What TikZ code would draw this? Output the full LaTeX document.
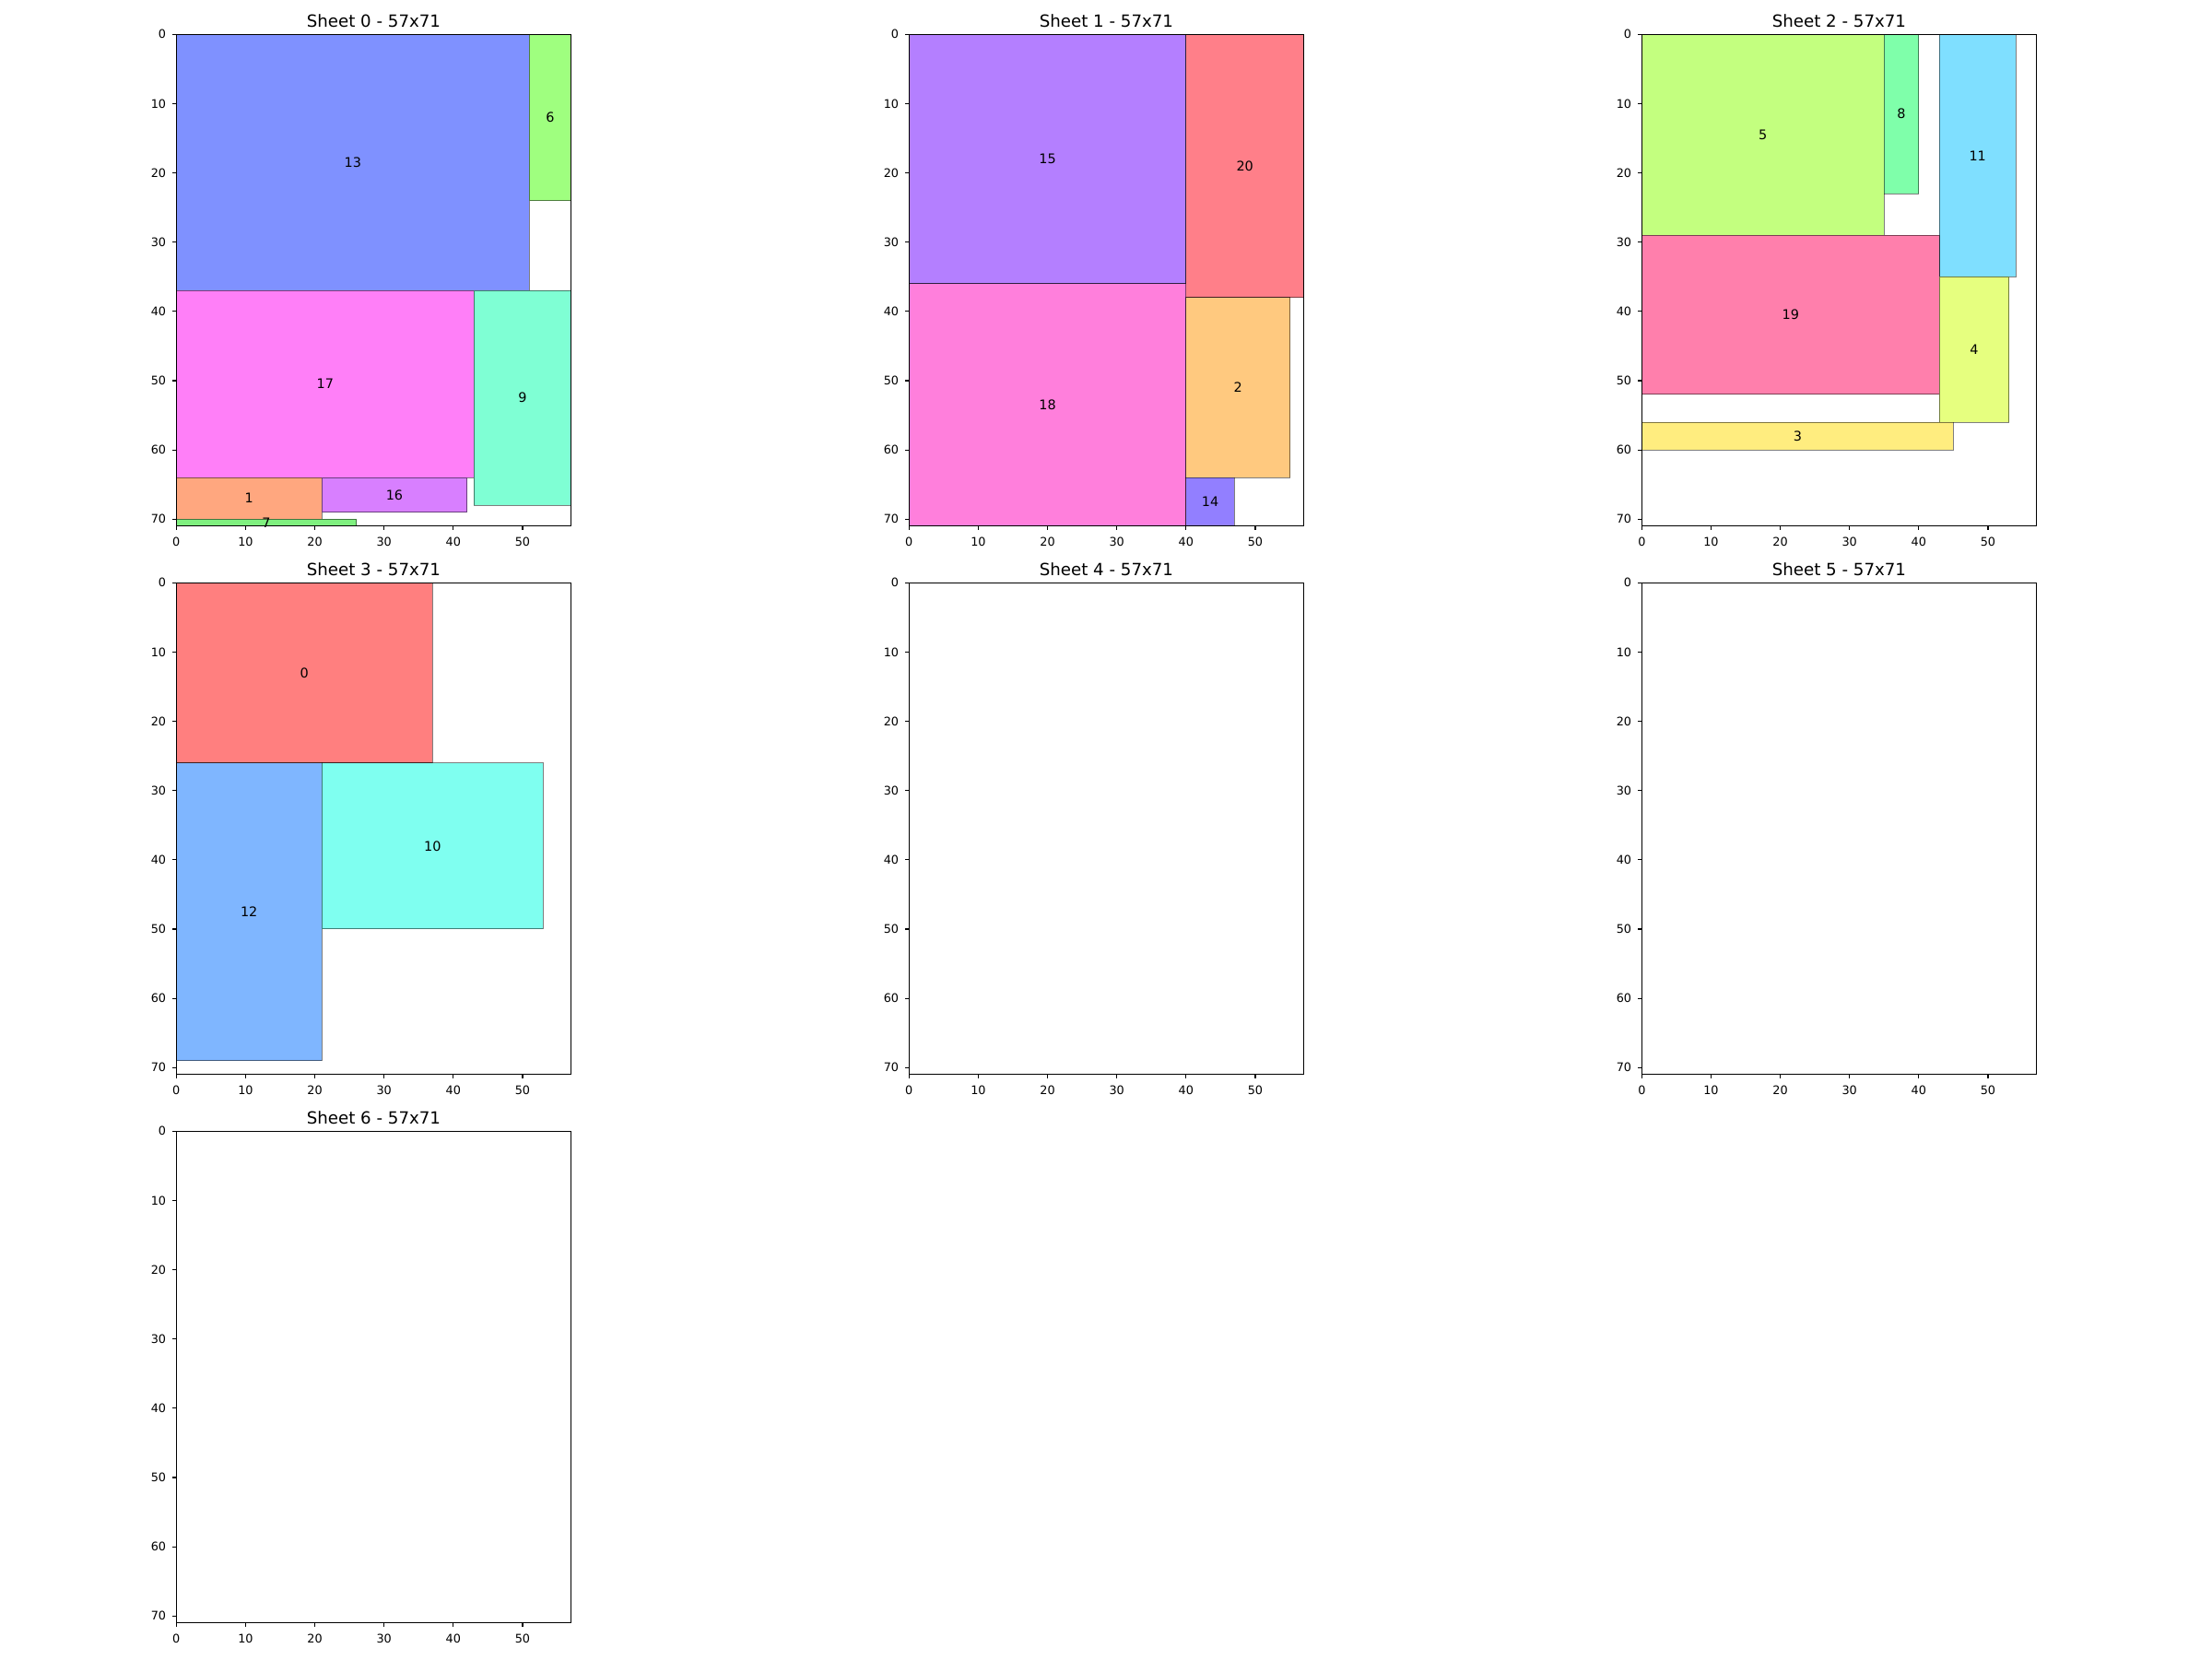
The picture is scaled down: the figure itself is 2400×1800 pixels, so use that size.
\documentclass[tikz,border=0pt]{standalone}
\usepackage{fontspec}
\setmainfont{DejaVu Sans}
\definecolor{c0}{RGB}{255,127,127}
\definecolor{c1}{RGB}{255,167,127}
\definecolor{c2}{RGB}{255,201,127}
\definecolor{c3}{RGB}{255,237,127}
\definecolor{c4}{RGB}{230,255,127}
\definecolor{c5}{RGB}{195,255,127}
\definecolor{c6}{RGB}{159,255,127}
\definecolor{c7}{RGB}{127,240,127}
\definecolor{c8}{RGB}{127,255,170}
\definecolor{c9}{RGB}{127,255,212}
\definecolor{c10}{RGB}{127,255,240}
\definecolor{c11}{RGB}{127,223,255}
\definecolor{c12}{RGB}{127,182,255}
\definecolor{c13}{RGB}{127,145,255}
\definecolor{c14}{RGB}{146,127,255}
\definecolor{c15}{RGB}{180,127,255}
\definecolor{c16}{RGB}{216,127,255}
\definecolor{c17}{RGB}{255,127,248}
\definecolor{c18}{RGB}{255,127,220}
\definecolor{c19}{RGB}{255,127,172}
\definecolor{c20}{RGB}{255,127,137}
\tikzset{
  sheetat/.style 2 args={xshift={191.3pt+795pt*#1}, yshift={-37.3pt-595pt*#2}, x=7.513pt, y=-7.513pt},
  box/.style={draw=black, draw opacity=0.5, line width=1pt},
  spine/.style={line width=1.1pt, draw=black},
  lbl/.style={inner sep=0pt, font=\fontsize{14.4}{16}\selectfont},
  ticklbl/.style={inner sep=0pt, font=\fontsize{12.8}{14}\selectfont},
  ttl/.style={inner sep=0pt, anchor=base, font=\fontsize{18.2}{20}\selectfont},
}
\newcommand\sheetframe[1]{%
  \draw[spine] (0,0) rectangle (57,71);
  \foreach \v in {0,10,...,50} {
    \draw[spine] (\v,71) -- ++(0,-4.5pt);
    \node[ticklbl, anchor=north] (s#1x\v) at ([yshift=-11.7pt]\v,71) {\v};
  }
  \foreach \v in {0,10,...,70} {
    \draw[spine] (0,\v) -- ++(-4.5pt,0);
    \node[ticklbl, anchor=east] (s#1y\v) at ([xshift=-11pt]0,\v) {\v};
  }
  \node[ttl] (s#1title) at ([yshift=8pt]28.5,0) {Sheet #1 - 57x71};
}
\begin{document}
\begin{tikzpicture}[x=1pt, y=-1pt]
\useasboundingbox[fill=white] (0,0) rectangle (2400,1800);

% Sheet 0
\begin{scope}[sheetat={0}{0}]
  \draw[box, fill=c13] (0,0) rectangle (51,37);
  \node[lbl] (p13) at (25.5,18.5) {13};
  \draw[box, fill=c6] (51,0) rectangle (57,24);
  \node[lbl] (p6) at (54,12) {6};
  \draw[box, fill=c17] (0,37) rectangle (43,64);
  \node[lbl] (p17) at (21.5,50.5) {17};
  \draw[box, fill=c9] (43,37) rectangle (57,68);
  \node[lbl] (p9) at (50,52.5) {9};
  \draw[box, fill=c1] (0,64) rectangle (21,70);
  \node[lbl] (p1) at (10.5,67) {1};
  \draw[box, fill=c16] (21,64) rectangle (42,69);
  \node[lbl] (p16) at (31.5,66.5) {16};
  \draw[box, fill=c7] (0,70) rectangle (26,71);
  \node[lbl] (p7) at (13,70.5) {7};
  \sheetframe{0}
\end{scope}

% Sheet 1
\begin{scope}[sheetat={1}{0}]
  \draw[box, fill=c15] (0,0) rectangle (40,36);
  \node[lbl] (p15) at (20,18) {15};
  \draw[box, fill=c20] (40,0) rectangle (57,38);
  \node[lbl] (p20) at (48.5,19) {20};
  \draw[box, fill=c18] (0,36) rectangle (40,71);
  \node[lbl] (p18) at (20,53.5) {18};
  \draw[box, fill=c2] (40,38) rectangle (55,64);
  \node[lbl] (p2) at (47.5,51) {2};
  \draw[box, fill=c14] (40,64) rectangle (47,71);
  \node[lbl] (p14) at (43.5,67.5) {14};
  \sheetframe{1}
\end{scope}

% Sheet 2
\begin{scope}[sheetat={2}{0}]
  \draw[box, fill=c5] (0,0) rectangle (35,29);
  \node[lbl] (p5) at (17.5,14.5) {5};
  \draw[box, fill=c8] (35,0) rectangle (40,23);
  \node[lbl] (p8) at (37.5,11.5) {8};
  \draw[box, fill=c11] (43,0) rectangle (54,35);
  \node[lbl] (p11) at (48.5,17.5) {11};
  \draw[box, fill=c19] (0,29) rectangle (43,52);
  \node[lbl] (p19) at (21.5,40.5) {19};
  \draw[box, fill=c4] (43,35) rectangle (53,56);
  \node[lbl] (p4) at (48,45.5) {4};
  \draw[box, fill=c3] (0,56) rectangle (45,60);
  \node[lbl] (p3) at (22.5,58) {3};
  \sheetframe{2}
\end{scope}

% Sheet 3
\begin{scope}[sheetat={0}{1}]
  \draw[box, fill=c0] (0,0) rectangle (37,26);
  \node[lbl] (p0) at (18.5,13) {0};
  \draw[box, fill=c12] (0,26) rectangle (21,69);
  \node[lbl] (p12) at (10.5,47.5) {12};
  \draw[box, fill=c10] (21,26) rectangle (53,50);
  \node[lbl] (p10) at (37,38) {10};
  \sheetframe{3}
\end{scope}

% Sheets 4-6 (empty)
\begin{scope}[sheetat={1}{1}]
  \sheetframe{4}
\end{scope}
\begin{scope}[sheetat={2}{1}]
  \sheetframe{5}
\end{scope}
\begin{scope}[sheetat={0}{2}]
  \sheetframe{6}
\end{scope}
\end{tikzpicture}
\end{document}
